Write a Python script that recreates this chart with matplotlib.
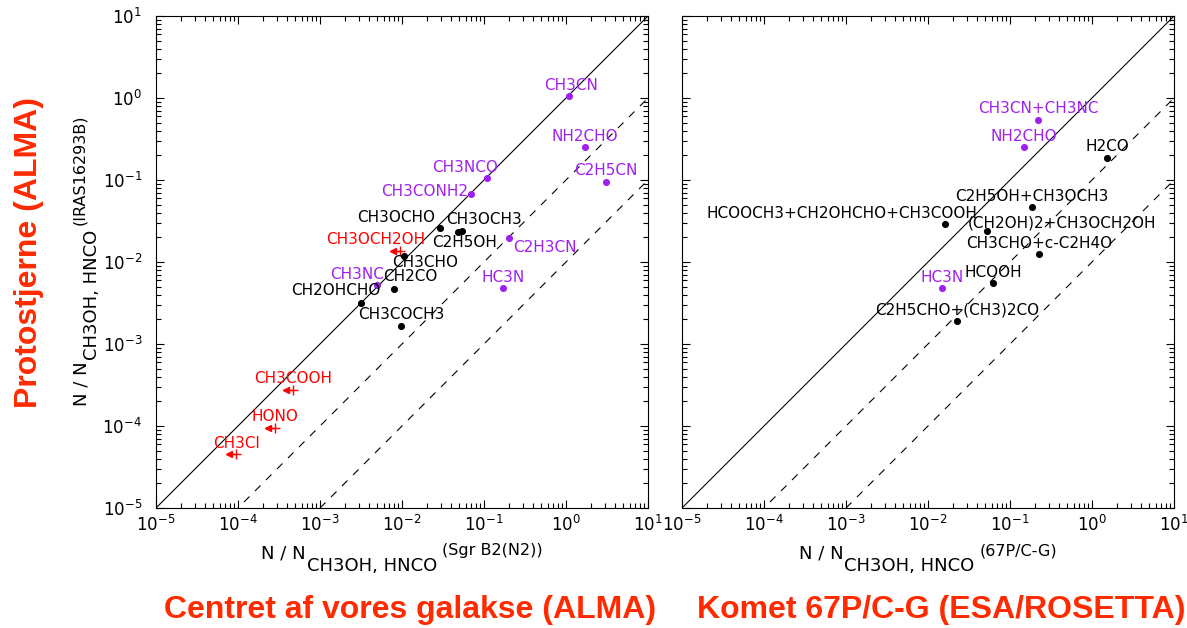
import matplotlib
matplotlib.use("Agg")
import matplotlib.pyplot as plt
import numpy as np

plt.rcParams['font.family'] = ['DejaVu Sans']
plt.rcParams['mathtext.default'] = 'regular'

# Sgr B2(N2) vs IRAS16293B
sgr_names = ["CH3CN", "NH2CHO", "C2H5CN", "CH3NCO", "CH3CONH2", "CH3OCHO",
             "C2H5OH", "CH3OCH3", "C2H3CN", "CH3CHO", "CH3NC", "CH2CO",
             "CH2OHCHO", "CH3COCH3", "HC3N"]
sgr_x = [1.08, 1.7, 3.05, 0.108, 0.069, 0.0293,
         0.0487, 0.0543, 0.204, 0.0106, 0.0049, 0.0081,
         0.0032, 0.0098, 0.172]
sgr_y = [1.06, 0.25, 0.095, 0.107, 0.067, 0.0258,
         0.023, 0.0239, 0.0198, 0.0118, 0.0053, 0.0047,
         0.0032, 0.00167, 0.0048]
sgr_kind = ["p", "p", "p", "p", "p", "k",
            "k", "k", "p", "k", "p", "k",
            "k", "k", "p"]

# upper limits (IRAS16293B)
lim_names = ["CH3OCH2OH", "CH3COOH", "HONO", "CH3Cl"]
lim_x = [0.0095, 4.7e-4, 2.8e-4, 9.5e-5]
lim_y = [0.0137, 2.75e-4, 9.5e-5, 4.5e-5]

# 67P/C-G vs IRAS16293B
com_names = ["CH3CN+CH3NC", "NH2CHO", "H2CO", "C2H5OH+CH3OCH3",
             "HCOOCH3+CH2OHCHO+CH3COOH", "(CH2OH)2+CH3OCH2OH",
             "CH3CHO+c-C2H4O", "HCOOH", "HC3N", "C2H5CHO+(CH3)2CO"]
com_x = [0.219, 0.149, 1.54, 0.187, 0.0163, 0.0528, 0.226, 0.0625, 0.0149, 0.0226]
com_y = [0.54, 0.25, 0.187, 0.0465, 0.029, 0.0237, 0.0124, 0.0055, 0.0048, 0.0019]
com_kind = ["p", "p", "k", "k", "k", "k", "k", "k", "p", "k"]

PURPLE = "#a020f0"
RED = "#ff0000"
TITLE_RED = "#ff2a00"
colors = {"p": PURPLE, "k": "black", "u": RED}

# label offsets in pixels (dx, dy up), default centred above the point
offs_left = {
    "CH3CN": (2, 10, "center"), "CH3NCO": (-22, 10, "center"),
    "CH3CONH2": (-3, 3, "right"), "CH3OCHO": (-44, 11, "center"),
    "CH3OCH3": (22, 11, "center"), "C2H5OH": (6, -10.5, "center"),
    "C2H3CN": (35, -10, "center"), "CH3OCH2OH": (-24, 11.4, "center"),
    "CH3CHO": (21, -6.3, "center"), "CH3NC": (-20, 9.7, "center"),
    "CH2CO": (16, 12, "center"), "CH2OHCHO": (-26, 12, "center"),
}
offs_right = {
    "HCOOCH3+CH2OHCHO+CH3COOH": (32, 11, "right"),
    "(CH2OH)2+CH3OCH2OH": (-20, 8, "left"),
}

W, H = 1187.0, 628.0
fig = plt.figure(figsize=(W / 100, H / 100), dpi=100)
ax1 = fig.add_axes([156 / W, 1 - 508 / H, 492 / W, 492 / H])
ax2 = fig.add_axes([682 / W, 1 - 508 / H, 492 / W, 492 / H])

line = np.array([1e-5, 1e1])
for ax in (ax1, ax2):
    ax.set_xscale('log')
    ax.set_yscale('log')
    ax.set_xlim(1e-5, 1e1)
    ax.set_ylim(1e-5, 1e1)
    ax.plot(line, line, color='black', lw=0.8)
    ax.plot(line, line / 10, color='black', lw=0.8, dashes=(7, 7))
    ax.plot(line, line / 100, color='black', lw=0.8, dashes=(7, 7))
    ax.tick_params(which='both', direction='in', top=True, right=True, width=0.8)
    ax.tick_params(which='major', length=6, labelsize=12)
    ax.tick_params(axis='x', which='major', pad=5)
    ax.tick_params(axis='y', which='major', pad=10)
    ax.tick_params(which='minor', length=3.5)
    for s in ax.spines.values():
        s.set_linewidth(0.8)

ax2.tick_params(axis='y', labelleft=False)


def label(ax, name, x, y, col, offs):
    dx, dy, ha = offs.get(name, (0, 11, "center"))
    ax.annotate(name, (x, y), xytext=(dx * 0.72, dy * 0.72), textcoords='offset points',
                ha=ha, va='center', fontsize=11, color=col)


for n, x, y, k in zip(sgr_names, sgr_x, sgr_y, sgr_kind):
    ax1.scatter([x], [y], s=26, color=colors[k], zorder=3, linewidths=0)
    label(ax1, n, x, y, colors[k], offs_left)

for n, x, y in zip(lim_names, lim_x, lim_y):
    ax1.plot([x / 1.28, x], [y, y], color=RED, lw=1)
    ax1.plot([x / 1.22], [y], marker='<', ms=5, color=RED, lw=0)
    ax1.plot([x], [y], marker='+', ms=7, mew=1, color=RED, lw=0)
    label(ax1, n, x, y, RED, offs_left)

for n, x, y, k in zip(com_names, com_x, com_y, com_kind):
    ax2.scatter([x], [y], s=26, color=colors[k], zorder=3, linewidths=0)
    label(ax2, n, x, y, colors[k], offs_right)

# axis labels built from pieces: main text, subscript, raised source name
renderer = fig.canvas.get_renderer()


def axis_label(center, base, source, vertical=False, sub=-13):
    pieces = [("N / N", 13, 0, 1), ("CH3OH, HNCO", 13, sub, 5), (source, 11.5, 3, 0)]
    texts, lengths = [], []
    for txt, size, shift, gap in pieces:
        t = fig.text(0, 0, txt, fontsize=size, ha='left', va='baseline',
                     rotation=90 if vertical else 0, rotation_mode='anchor')
        bb = t.get_window_extent(renderer)
        lengths.append((bb.height if vertical else bb.width) + gap)
        texts.append(t)
    pos = center - sum(lengths) / 2
    for t, (txt, size, shift, gap), ln in zip(texts, pieces, lengths):
        if vertical:
            t.set_position(((base - shift) / W, pos / H))
        else:
            t.set_position((pos / W, (base + shift) / H))
        pos += ln


axis_label(402, H - 558, "(Sgr B2(N2))")
axis_label(928, H - 558, "(67P/C-G)")
axis_label(H - 260, 87, "(IRAS16293B)", vertical=True, sub=-10)

tfont = dict(family='Liberation Sans', weight='bold', color=TITLE_RED, fontsize=23)
fig.text(410 / W, 1 - 610 / H, 'Centret af vores galakse (ALMA)', ha='center', va='center', **tfont)
fig.text(697 / W, 1 - 610 / H, 'Komet 67P/C-G (ESA/ROSETTA)', ha='left', va='center', **tfont)
fig.text(29 / W, 1 - 253 / H, 'Protostjerne (ALMA)', ha='center', va='center', rotation=90, **tfont)

fig.savefig("out.png", dpi=100)
